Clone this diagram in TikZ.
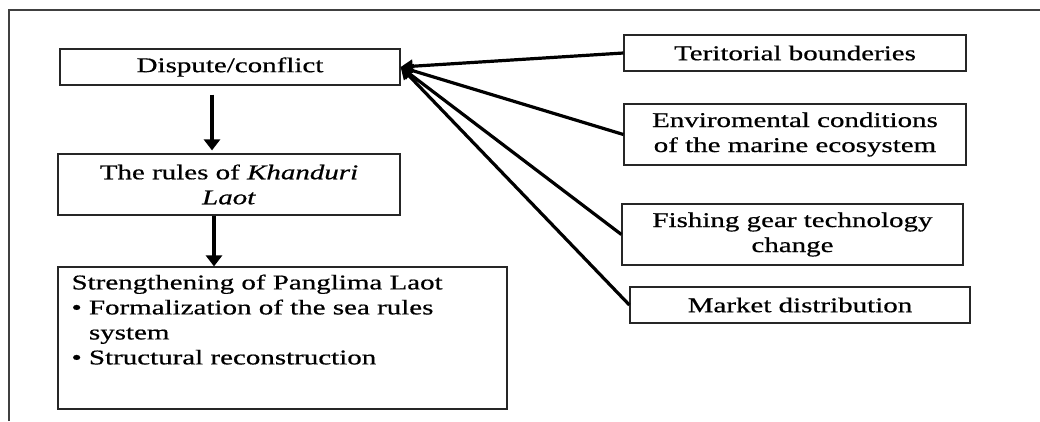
\documentclass[tikz,border=0pt]{standalone}
\usepackage{fontspec}
\setmainfont[FakeStretch=1.38,FakeBold=0.6]{Liberation Serif}
\usetikzlibrary{arrows.meta}
\begin{document}
\begin{tikzpicture}[x=1pt,y=-1pt,
  box/.style={draw=black!85,line width=1.2pt,inner sep=0pt,align=center,
    font=\fontsize{21}{25}\selectfont},
  arr/.style={line width=3.2pt,-{Triangle[length=11pt,width=16pt]}},
  conn/.style={line width=3.2pt,-{Triangle[length=12pt,width=13pt]}},
  frame/.style={draw=black!75,line width=1.3pt}]
\useasboundingbox (0,0) rectangle (1040,421);
\fill[white] (0,0) rectangle (1040,421);
\draw[frame] (9,421) -- (9,10) -- (1040,10);
% left column
\node[box,minimum width=340pt,minimum height=36pt] (dispute) at (230,67) {Dispute/conflict};
\node[box,minimum width=342pt,minimum height=61pt] (rules) at (229,184.5) {The rules of \textit{Khanduri}\\\textit{Laot}};
\node[box,minimum width=449pt,minimum height=142pt] (strength) at (282.5,338) {};
\node[inner sep=0pt,anchor=north west,align=left,font=\fontsize{21}{25}\selectfont] (strengthtext) at ([xshift=14pt,yshift=-8pt]strength.north west)
  {Strengthening of Panglima Laot\\
   \textbullet\ Formalization of the sea rules\\
   \hphantom{\textbullet\ }system\\
   \textbullet\ Structural reconstruction};
% right column
\node[box,minimum width=342pt,minimum height=36pt] (terr) at (795,53) {Teritorial bounderies};
\node[box,minimum width=342pt,minimum height=61pt] (env) at (795,134.5) {Enviromental conditions\\of the marine ecosystem};
\node[box,minimum width=341pt,minimum height=61pt] (fish) at (792.5,234.5) {Fishing gear technology\\change};
\node[box,minimum width=340pt,minimum height=36pt] (market) at (800,305) {Market distribution};
% arrows
\draw[arr] ([xshift=-18pt,yshift=-9pt]dispute.south) -- ([xshift=-17pt,yshift=3pt]rules.north);
\draw[arr] ([xshift=-15pt]rules.south) -- ([xshift=-68.5pt]strength.north);
\draw[conn] (terr.west) -- (dispute.east);
\draw[conn] (env.west) -- (dispute.east);
\draw[conn] (fish.west) -- (dispute.east);
\draw[conn] (market.west) -- (dispute.east);
\end{tikzpicture}
\end{document}
